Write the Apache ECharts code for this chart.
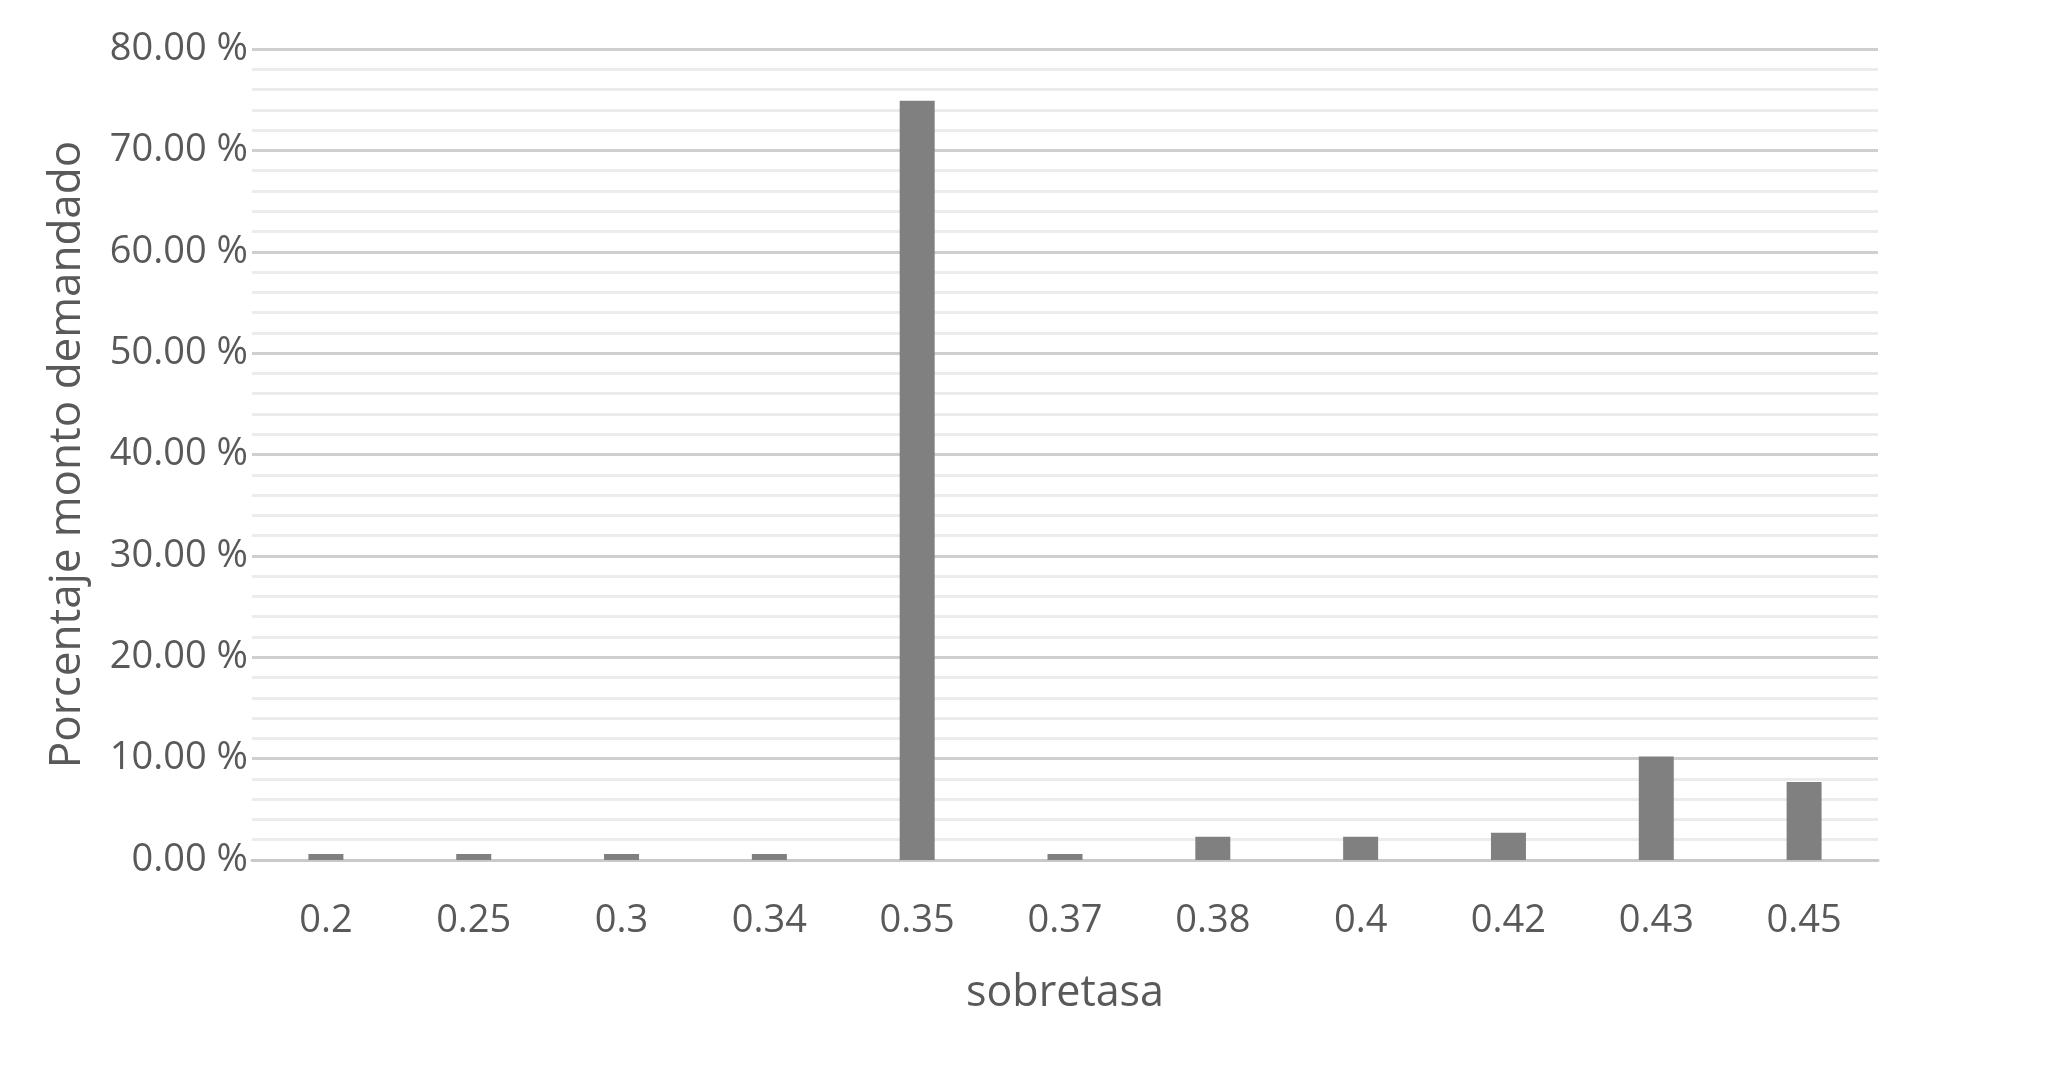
<!DOCTYPE html>
<html>
<head>
<meta charset="utf-8">
<script src="https://cdn.jsdelivr.net/npm/echarts@6/dist/echarts.min.js"></script>
<style>
  html, body { margin: 0; padding: 0; background: #fff; }
  #chart { width: 2056px; height: 1079px; }
</style>
</head>
<body>
<div id="chart"></div>
<script>
// categories (sobretasa) and share of demanded amount, in %
const categories = ['0.2', '0.25', '0.3', '0.34', '0.35', '0.37', '0.38', '0.4', '0.42', '0.43', '0.45']
const percentages = [0.6, 0.6, 0.6, 0.6, 74.9, 0.6, 2.3, 2.3, 2.7, 10.2, 7.7]

const textColor = '#595959'
const font = 'Open Sans'

let myChart = echarts.init(document.getElementById('chart'))
myChart.setOption({
  animation: false,
  grid: {
    left: 252,
    right: 178,
    top: 49,
    bottom: 219
  },
  xAxis: {
    type: 'category',
    data: categories,
    name: 'sobretasa',
    nameLocation: 'middle',
    nameGap: 112,
    nameTextStyle: {color: textColor, fontSize: 43, fontFamily: font},
    axisLine: {lineStyle: {color: '#c9c9c9', width: 3}},
    axisTick: {show: false},
    axisLabel: {color: textColor, fontSize: 38, fontFamily: font, margin: 42}
  },
  yAxis: {
    type: 'value',
    min: 0,
    max: 80,
    interval: 10,
    name: 'Porcentaje monto demandado',
    nameLocation: 'middle',
    nameGap: 163,
    nameTextStyle: {color: textColor, fontSize: 44, fontFamily: font},
    axisLine: {show: false},
    axisTick: {show: false},
    axisLabel: {
      color: textColor,
      fontSize: 38,
      fontFamily: font,
      margin: 4,
      formatter: v => v.toFixed(2) + ' %'
    },
    splitLine: {lineStyle: {color: '#cfcfcf', width: 3}},
    minorTick: {show: false, splitNumber: 5},
    minorSplitLine: {show: true, lineStyle: {color: '#ececec', width: 3}}
  },
  series: [
    {
      type: 'bar',
      data: percentages,
      barWidth: 35,
      itemStyle: {color: '#808080'}
    }
  ]
})
</script>
</body>
</html>
